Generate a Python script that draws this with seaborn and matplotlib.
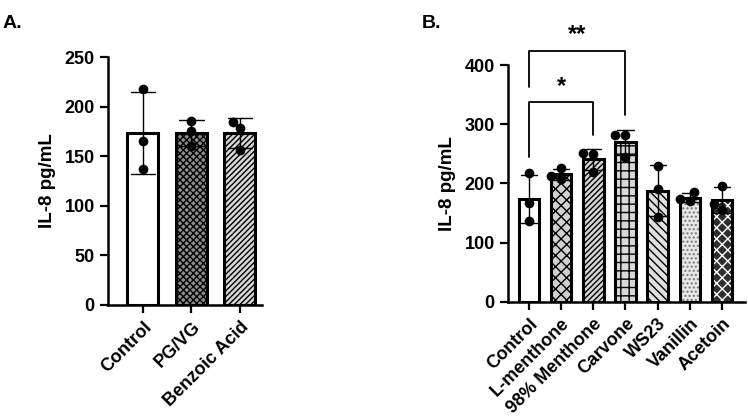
import numpy as np
import pandas as pd
import matplotlib
matplotlib.use("Agg")
import matplotlib.pyplot as plt
import matplotlib.colors as mcolors
import seaborn as sns

# panel A data (replicates, pg/mL)
groups_a = ["Control", "PG/VG", "Benzoic Acid"]
vals_a = [[218, 165, 137], [186, 175, 160], [185, 178, 156]]

# panel B data
groups_b = ["Control", "L-menthone", "98% Menthone", "Carvone", "WS23", "Vanillin", "Acetoin"]
vals_b = [[218, 167, 137], [226, 208, 212], [252, 250, 220], [282, 282, 245],
          [229, 190, 143], [185, 173, 170], [196, 165, 155]]

# significance brackets: (group i, group j, bar y, left leg end, right leg end, label)
brackets = [(0, 2, 337, 245, 282, "*"), (0, 3, 424, 363, 316, "**")]

face_a = ["white", "#8c8c8c", "#d8d8d8"]
hatch_a = [None, "xxxxx", "//////"]
hcol_a = [None, "black", "black"]
face_b = ["white", "#d0d0d0", "#d5d5d5", "#d8d8d8", "#e0e0e0", "#e8e8e8", "#2e2e2e"]
hatch_b = [None, "xxx", "//////", "++", "\\\\\\\\", "....", "xxx"]
hcol_b = [None, "black", "black", "black", "black", "#777777", "white"]

sns.set_style("ticks")
plt.rcParams["font.family"] = ["Liberation Sans", "DejaVu Sans"]
plt.rcParams["font.weight"] = "bold"
plt.rcParams["hatch.linewidth"] = 1.0
for k in ["text.color", "axes.labelcolor", "xtick.color", "ytick.color", "axes.edgecolor"]:
    plt.rcParams[k] = "black"


def long_df(groups, vals):
    rows = []
    for g, v in zip(groups, vals):
        for x in v:
            rows.append({"group": g, "val": x})
    return pd.DataFrame(rows)


def draw_panel(ax, groups, vals, faces, hatches, hcols, ymax, ystep):
    df = long_df(groups, vals)
    sns.barplot(data=df, x="group", y="val", hue="group", order=groups,
                palette=faces, errorbar="sd", capsize=0.5, width=0.64,
                edgecolor="black", linewidth=2.2, legend=False,
                err_kws={"color": "black", "linewidth": 1.0}, ax=ax)
    for p, h, hc in zip(ax.patches, hatches, hcols):
        if h:
            p.set_hatch(h)
            p._hatch_color = mcolors.to_rgba(hc)
            p.stale = True
    sns.swarmplot(data=df, x="group", y="val", order=groups, color="black",
                  size=7, ax=ax, zorder=5)
    ax.set_ylim(0, ymax)
    ax.set_yticks(np.arange(0, ymax + 1, ystep))
    ax.set_xlabel("")
    ax.set_ylabel("IL-8 pg/mL", fontsize=13.5, fontweight="bold", labelpad=6)
    ax.tick_params(axis="both", width=1.6, length=6, labelsize=13)
    ax.set_xticks(range(len(groups)))
    ax.set_xticklabels(groups, rotation=45, ha="right", rotation_mode="anchor",
                       fontweight="bold")
    for lab in ax.get_yticklabels():
        lab.set_fontweight("bold")
    sns.despine(ax=ax)
    for s in ["left", "bottom"]:
        ax.spines[s].set_linewidth(1.8)
        ax.spines[s].set_color("black")


fig = plt.figure(figsize=(7.48, 4.17), dpi=100)
axA = fig.add_axes([0.1444, 0.2686, 0.2056, 0.5946])
axB = fig.add_axes([0.679, 0.276, 0.317, 0.568])

draw_panel(axA, groups_a, vals_a, face_a, hatch_a, hcol_a, 250, 50)
axA.set_xlim(-0.72, 2.45)

draw_panel(axB, groups_b, vals_b, face_b, hatch_b, hcol_b, 400, 100)
axB.set_xlim(-0.65, 6.71)

for i, j, ytop, yl, yr, lab in brackets:
    axB.plot([i, i, j, j], [yl, ytop, ytop, yr], color="black", lw=1.3,
             clip_on=False)
    axB.text((i + j) / 2, ytop + 8, lab, ha="center", va="bottom",
             fontsize=17, fontweight="bold")

fig.text(0.004, 0.965, "A.", fontsize=14, fontweight="bold", va="top")
fig.text(0.564, 0.965, "B.", fontsize=14, fontweight="bold", va="top")

fig.savefig("out.png", dpi=100)
